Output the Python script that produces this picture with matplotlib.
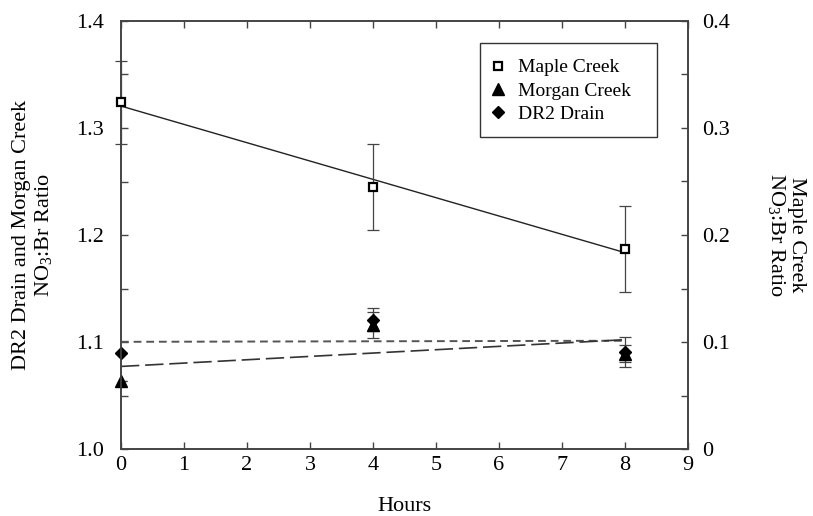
import numpy as np
import matplotlib
matplotlib.use("Agg")
import matplotlib.pyplot as plt
from matplotlib.ticker import MultipleLocator, FormatStrFormatter
from matplotlib.lines import Line2D
from matplotlib.patches import Rectangle

plt.rcParams['font.family'] = ['Liberation Serif', 'DejaVu Serif']
plt.rcParams['mathtext.fontset'] = 'custom'
plt.rcParams['mathtext.rm'] = 'Liberation Serif'
plt.rcParams['mathtext.it'] = 'Liberation Serif:italic'

hours = [0, 4, 8]
maple = [0.324, 0.245, 0.187]
maple_err = [0.039, 0.040, 0.040]
morgan = [1.064, 1.116, 1.089]
morgan_err = [0.0, 0.012, 0.008]
dr2 = [1.090, 1.121, 1.091]
dr2_err = [0.0, 0.011, 0.014]

W, H = 813, 516
fig = plt.figure(figsize=(W/100, H/100), dpi=100)
ax = fig.add_axes([121/W, 1-449/H, (688-121)/W, (449-21)/H])
ax2 = ax.twinx()

spine_col = '#444444'
tfs = 16
lfs = 16

# regression lines
xfit = np.array([0, 8])
p_dr2 = np.polyfit(hours, dr2, 1)
p_mor = np.polyfit(hours, morgan, 1)
p_map = np.polyfit(hours, maple, 1)
ax.plot(xfit, np.polyval(p_dr2, xfit), color='#555555', lw=1.4, dashes=(4, 2.5), zorder=2)
ax.plot(xfit, np.polyval(p_mor, xfit), color='#333333', lw=1.2, dashes=(11, 3.5), zorder=2)
ax2.plot(xfit, np.polyval(p_map, xfit), color='#222222', lw=1.0, zorder=2)

# error bars + markers
ax.errorbar(hours, morgan, yerr=morgan_err, fmt='none', ecolor='#444444', elinewidth=0.9, capsize=4.5, capthick=0.9, zorder=3)
ax.errorbar(hours, dr2, yerr=dr2_err, fmt='none', ecolor='#444444', elinewidth=0.9, capsize=4.5, capthick=0.9, zorder=3)
ax.plot(hours, morgan, linestyle='none', marker='^', ms=9, color='black', clip_on=False, zorder=4)
ax.plot(hours, dr2, linestyle='none', marker='D', ms=6.5, color='black', clip_on=False, zorder=5)

ax2.errorbar(hours, maple, yerr=maple_err, fmt='none', ecolor='#444444', elinewidth=0.9, capsize=4.5, capthick=0.9, zorder=3, clip_on=False)
ax2.plot(hours, maple, linestyle='none', marker='s', ms=5.5, mfc='white', mec='black', mew=1.6, clip_on=False, zorder=4)

# axes setup
ax.set_xlim(0, 9)
ax.set_ylim(1.0, 1.4)
ax2.set_ylim(0, 0.4)
ax.xaxis.set_major_locator(MultipleLocator(1))
ax.yaxis.set_major_locator(MultipleLocator(0.1))
ax.yaxis.set_minor_locator(MultipleLocator(0.05))
ax.yaxis.set_major_formatter(FormatStrFormatter('%.1f'))
ax2.yaxis.set_minor_locator(MultipleLocator(0.05))
ax2.set_yticks([0, 0.1, 0.2, 0.3, 0.4])
ax2.set_yticklabels(['0', '0.1', '0.2', '0.3', '0.4'])

ax.tick_params(axis='x', which='major', direction='in', top=True, bottom=True, length=5, width=1, color=spine_col, labelsize=tfs, pad=5)
ax.tick_params(axis='y', which='both', direction='in', left=True, right=False, length=5, width=1, color=spine_col, labelsize=tfs, pad=12)
ax2.tick_params(axis='y', which='both', direction='in', left=False, right=True, length=5, width=1, color=spine_col, labelsize=tfs, pad=10)

for a in (ax, ax2):
    for s in a.spines.values():
        s.set_color(spine_col)
        s.set_linewidth(1.2)

ax.set_xlabel('Hours', fontsize=lfs, labelpad=16)
fig.text(33/W, 1-235/H, 'DR2 Drain and Morgan Creek\nNO$_3$:Br Ratio', fontsize=lfs,
         rotation=90, ha='center', va='center', multialignment='center', linespacing=1.15)
fig.text(786/W, 1-235/H, 'Maple Creek\nNO$_3$:Br Ratio', fontsize=lfs,
         rotation=270, ha='center', va='center', multialignment='center', linespacing=1.0)

# legend
handles = [
    Line2D([], [], linestyle='none', marker='s', ms=5.5, mfc='white', mec='black', mew=1.6),
    Line2D([], [], linestyle='none', marker='^', ms=9, color='black'),
    Line2D([], [], linestyle='none', marker='D', ms=6.5, color='black'),
]
fig.patches.append(Rectangle((480/W, 1-137/H), (657-480)/W, (137-43)/H, transform=fig.transFigure,
                             fill=False, edgecolor='#333333', lw=1.0, zorder=10))
leg = ax2.legend(handles, ['Maple Creek', 'Morgan Creek', 'DR2 Drain'],
                 loc='center left', bbox_to_anchor=(492/W, 1-91/H), bbox_transform=fig.transFigure,
                 borderaxespad=0, fontsize=14, frameon=False,
                 handlelength=0.6, handletextpad=0.75, labelspacing=0.3, borderpad=0)

fig.savefig('out.png', dpi=100)
